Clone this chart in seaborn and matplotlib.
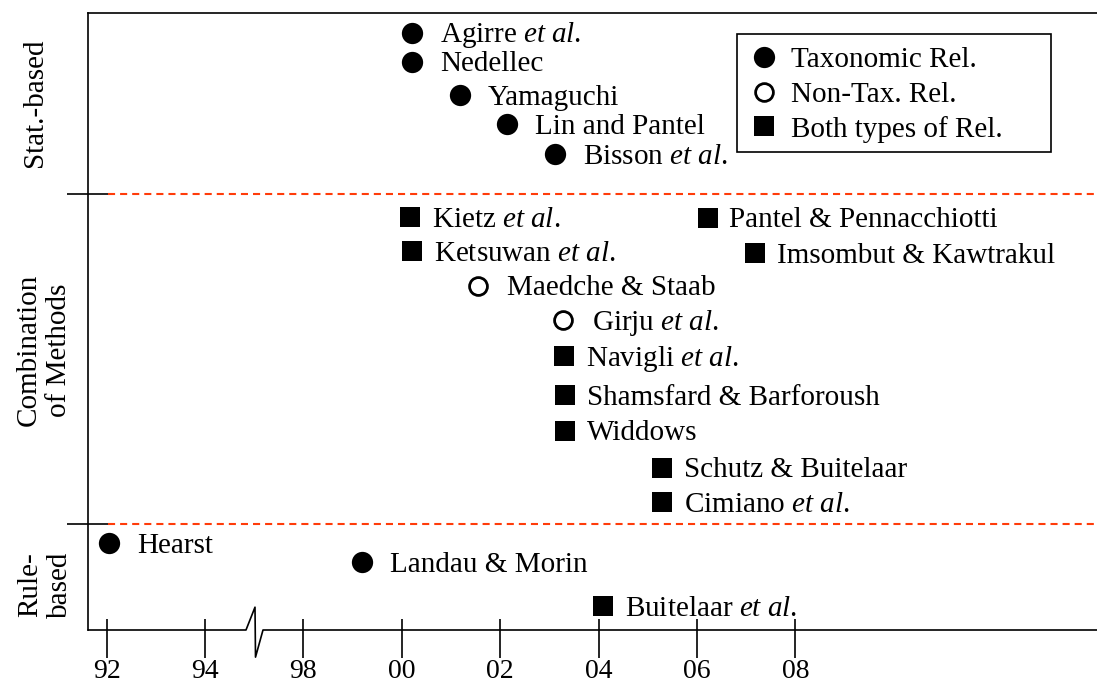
import pandas as pd
import seaborn as sns
import matplotlib.pyplot as plt
from matplotlib.lines import Line2D
from matplotlib.patches import Rectangle

# approaches: name, publication year, vertical level (0 = axis, 100 = top), relation type
names = [
    "Agirre $\\mathit{et\\ al.}$", "Nedellec", "Yamaguchi", "Lin and Pantel", "Bisson $\\mathit{et\\ al.}$",
    "Kietz $\\mathit{et\\ al.}$", "Ketsuwan $\\mathit{et\\ al.}$", "Maedche & Staab", "Girju $\\mathit{et\\ al.}$",
    "Navigli $\\mathit{et\\ al.}$", "Shamsfard & Barforoush", "Widdows", "Schutz & Buitelaar",
    "Cimiano $\\mathit{et\\ al.}$", "Pantel & Pennacchiotti", "Imsombut & Kawtrakul",
    "Hearst", "Landau & Morin", "Buitelaar $\\mathit{et\\ al.}$",
]
years = [2000.21, 2000.21, 2001.18, 2002.14, 2003.11,
         2000.17, 2000.21, 2001.55, 2003.28, 2003.30, 2003.32, 2003.32, 2005.29,
         2005.29, 2006.22, 2007.18,
         1992.05, 1999.19, 2004.09]
levels = [96.8, 92.1, 86.7, 82.0, 77.1,
          66.9, 61.4, 55.8, 50.2, 44.4, 38.1, 32.3, 26.3,
          20.7, 66.8, 61.1,
          14.1, 11.0, 3.9]
kinds = ["tax", "tax", "tax", "tax", "tax",
         "both", "both", "nontax", "nontax", "both", "both", "both", "both",
         "both", "both", "both",
         "tax", "tax", "both"]

tick_years = [1992, 1994, 1998, 2000, 2002, 2004, 2006, 2008]
tick_labels = ["92", "94", "98", "00", "02", "04", "06", "08"]
group_bounds = [17.2, 70.7]
group_names = ["Stat.-based", "Combination\nof Methods", "Rule-\nbased"]
legend_labels = ["Taxonomic Rel.", "Non-Tax. Rel.", "Both types of Rel."]


def year_pos(y):
    # axis is broken between 94 and 98
    return y - 1992 if y < 1996 else y - 1994


sns.set_theme(style="white")
plt.rcParams["font.family"] = ["Liberation Serif", "DejaVu Serif"]
plt.rcParams["mathtext.fontset"] = "custom"
plt.rcParams["mathtext.rm"] = "Liberation Serif"
plt.rcParams["mathtext.it"] = "Liberation Serif:italic"
plt.rcParams["text.color"] = "black"
plt.rcParams["xtick.color"] = "black"
plt.rcParams["ytick.color"] = "black"
FS = 21

df = pd.DataFrame({"name": names, "year": years, "level": levels, "kind": kinds})
df["pos"] = df["year"].apply(year_pos)

W, H = 1097, 688
fig = plt.figure(figsize=(W / 100, H / 100), dpi=100)
ax = fig.add_axes([88 / W, (H - 630) / H, 1 - 88 / W, (630 - 13) / H])

styles = {
    "tax": dict(marker="o", s=235, color="black", linewidth=0),
    "nontax": dict(marker="o", s=165, facecolor="white", edgecolor="black", linewidth=2.0),
    "both": dict(marker="s", s=200, color="black", linewidth=0),
}
offsets = {"tax": 20, "nontax": 20.5, "both": 15.5}

for kind, st in styles.items():
    sub = df[df["kind"] == kind]
    sns.scatterplot(data=sub, x="pos", y="level", ax=ax, legend=False, zorder=3, **st)
    for _, r in sub.iterrows():
        ax.annotate(r["name"], xy=(r["pos"], r["level"]), xytext=(offsets[kind], -6.9),
                    textcoords="offset points", va="baseline", ha="left", fontsize=FS)

x0 = (88 - 106.6) / 49.2
x1 = (1097 - 106.6) / 49.2
ax.set_xlim(x0, x1)
ax.set_ylim(0, 100)
ax.set_xlabel("")
ax.set_ylabel("")

# group separators
for b in group_bounds:
    ax.axhline(b, xmin=0.02, xmax=1, color="#ff3c0a", lw=1.5, ls=(0, (3.4, 2.4)), zorder=1)

ax.set_yticks(group_bounds)
ax.set_yticklabels([])
ax.tick_params(axis="y", which="major", direction="inout", length=30, width=1.2, left=True)

ax.set_xticks([year_pos(t) for t in tick_years])
ax.set_xticklabels(tick_labels, fontsize=20)
ax.set_xticks([year_pos(t) for t in tick_years], minor=True)
ax.xaxis.remove_overlapping_locs = False
ax.tick_params(axis="x", which="major", direction="out", length=20.5, width=1.2, pad=0.3, bottom=True)
ax.tick_params(axis="x", which="minor", direction="in", length=8, width=1.2, bottom=True)

for side in ["right", "bottom"]:
    ax.spines[side].set_visible(False)
for side in ["left", "top"]:
    ax.spines[side].set_color("black")
    ax.spines[side].set_linewidth(1.2)

# bottom axis with break mark
bx = [(246 - 106.6) / 49.2, (255 - 106.6) / 49.2, (255.5 - 106.6) / 49.2, (263 - 106.6) / 49.2]
ax.plot([x0, bx[0], bx[1], bx[2], bx[3], x1], [0, 0, 3.7, -4.4, 0, 0],
        color="black", lw=1.2, clip_on=False, zorder=4)

# group labels on the left
fig.text(35 / W, 1 - 103 / H, group_names[0], rotation=90, ha="center", va="center", fontsize=FS)
fig.text(44 / W, 1 - 350 / H, group_names[1], rotation=90, ha="center", va="center",
         multialignment="center", fontsize=FS, linespacing=1.2)
fig.text(45 / W, 1 - 585 / H, group_names[2], rotation=90, ha="center", va="center",
         multialignment="center", fontsize=FS, linespacing=1.2)

# legend
handles = [
    Line2D([], [], ls="", marker="o", markersize=15.3, color="black", markeredgewidth=0),
    Line2D([], [], ls="", marker="o", markersize=12.8, markerfacecolor="white",
           markeredgecolor="black", markeredgewidth=2.0),
    Line2D([], [], ls="", marker="s", markersize=14.1, color="black", markeredgewidth=0),
]
ax.legend(handles, legend_labels, loc="upper left", bbox_to_anchor=(752 / W, 1 - 47 / H),
          bbox_transform=fig.transFigure, frameon=False, fontsize=FS, borderpad=0,
          borderaxespad=0, handlelength=0.8, handletextpad=0.55, labelspacing=0.27)
fig.patches.append(Rectangle((737 / W, 1 - 152 / H), (1051 - 737) / W, (152 - 34) / H,
                             transform=fig.transFigure, fill=False, edgecolor="black", lw=1.2))

fig.savefig("out.png", dpi=100)
